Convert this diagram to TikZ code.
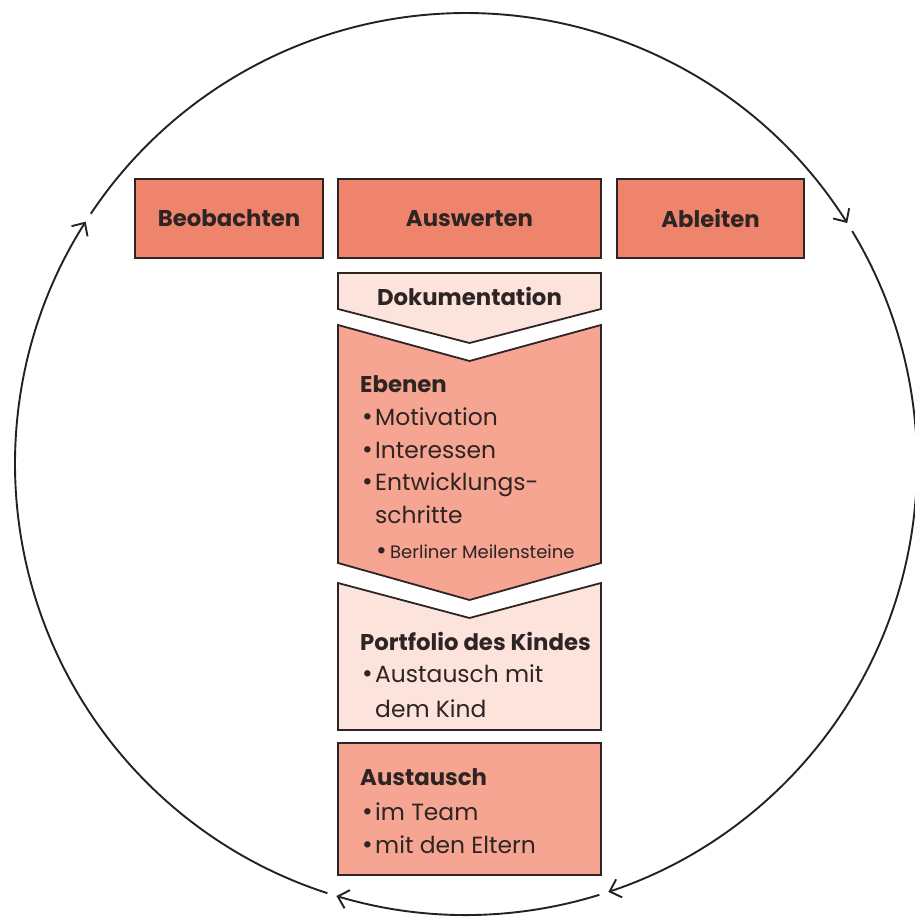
\documentclass[tikz,border=0pt]{standalone}
\usepackage{fontspec}
\setmainfont{Poppins}
\usetikzlibrary{arrows.meta}

\definecolor{boxdark}{HTML}{EF846D}
\definecolor{boxmid}{HTML}{F5A592}
\definecolor{boxlight}{HTML}{FCE4DD}
\definecolor{edgecol}{HTML}{2E2424}
\definecolor{loopcol}{HTML}{222222}

% bullet followed by a fixed indent
\newcommand\itemdot[2]{\makebox[#1][l]{\raisebox{#2}{\fontsize{26}{26}\selectfont\textbullet}}}

\begin{document}
\begin{tikzpicture}[x=1pt,y=-1pt,
  panel/.style={draw=edgecol, line width=1.8pt, line join=miter},
  topbox/.style={panel, fill=boxdark, minimum height=79pt, inner sep=0pt,
    font=\fontsize{22.8}{26}\selectfont\bfseries, text=edgecol},
  title/.style={font=\fontsize{22.8}{26}\selectfont\bfseries, text=edgecol, inner sep=0pt},
  head/.style={title, anchor=base west},
  entry/.style={font=\fontsize{23.4}{27}\selectfont, text=edgecol, anchor=base west, inner sep=0pt},
  subentry/.style={font=\fontsize{18}{21}\selectfont, text=edgecol, anchor=base west, inner sep=0pt},
  loopline/.style={draw=loopcol, line width=1.9pt,
    -{Straight Barb[length=10pt,width=19pt,line width=1.9pt]}}
]
\path[use as bounding box] (0,0) rectangle (915,918);

% the three phases
\node[topbox, minimum width=188pt] (beob) at (229,218.5) {Beobachten};
\node[topbox, minimum width=263pt] (ausw) at (469.5,218.5) {Auswerten};
\node[topbox, minimum width=187pt] (ableit) at (710.5,218.5) {Ableiten};

% column of chevrons below "Auswerten"
\draw[panel, fill=boxlight] (338,273) -- (601,273) -- (601,309) -- (469.5,343) -- (338,309) -- cycle;
\draw[panel, fill=boxmid] (338,325) -- (469.5,361) -- (601,325) -- (601,563) -- (469.5,600) -- (338,563) -- cycle;
\draw[panel, fill=boxlight] (338,583) -- (469.5,618) -- (601,583) -- (601,730) -- (338,730) -- cycle;
\draw[panel, fill=boxmid] (338,743) rectangle (601,875);

\node[title, anchor=base] (doku) at (469.5,305) {Dokumentation};

\node[head] (eb) at (360,392) {Ebenen};
\node[entry] (eb1) at (362,425) {\itemdot{13pt}{0ex}Motivation};
\node[entry] (eb2) at (362,458) {\itemdot{13pt}{0ex}Interessen};
\node[entry] (eb3) at (362,490) {\itemdot{13pt}{0ex}Entwicklungs-};
\node[entry] (eb4) at (375,523) {schritte};
\node[subentry] (eb5) at (376,558) {\itemdot{14pt}{-0.2ex}Berliner Meilensteine};

\node[head] (pf) at (360,650) {Portfolio des Kindes};
\node[entry] (pf1) at (362,682) {\itemdot{13pt}{0ex}Austausch mit};
\node[entry] (pf2) at (375,717) {dem Kind};

\node[head] (au) at (360,785) {Austausch};
\node[entry] (au1) at (362,820) {\itemdot{13pt}{0ex}im Team};
\node[entry] (au2) at (362,853) {\itemdot{13pt}{0ex}mit den Eltern};

% clockwise cycle made of four arrowed arcs
\coordinate (O) at (466,464);
\draw[loopline] (O) ++(107.9:451) arc[start angle=107.9, end angle=212.5, radius=451];
\draw[loopline] (O) ++(213.7:451) arc[start angle=213.7, end angle=327.7, radius=451];
\draw[loopline] (O) ++(328.9:451) arc[start angle=328.9, end angle=431.6, radius=451];
\draw[loopline] (O) ++(432.8:451) arc[start angle=432.8, end angle=466.7, radius=451];
\end{tikzpicture}
\end{document}
